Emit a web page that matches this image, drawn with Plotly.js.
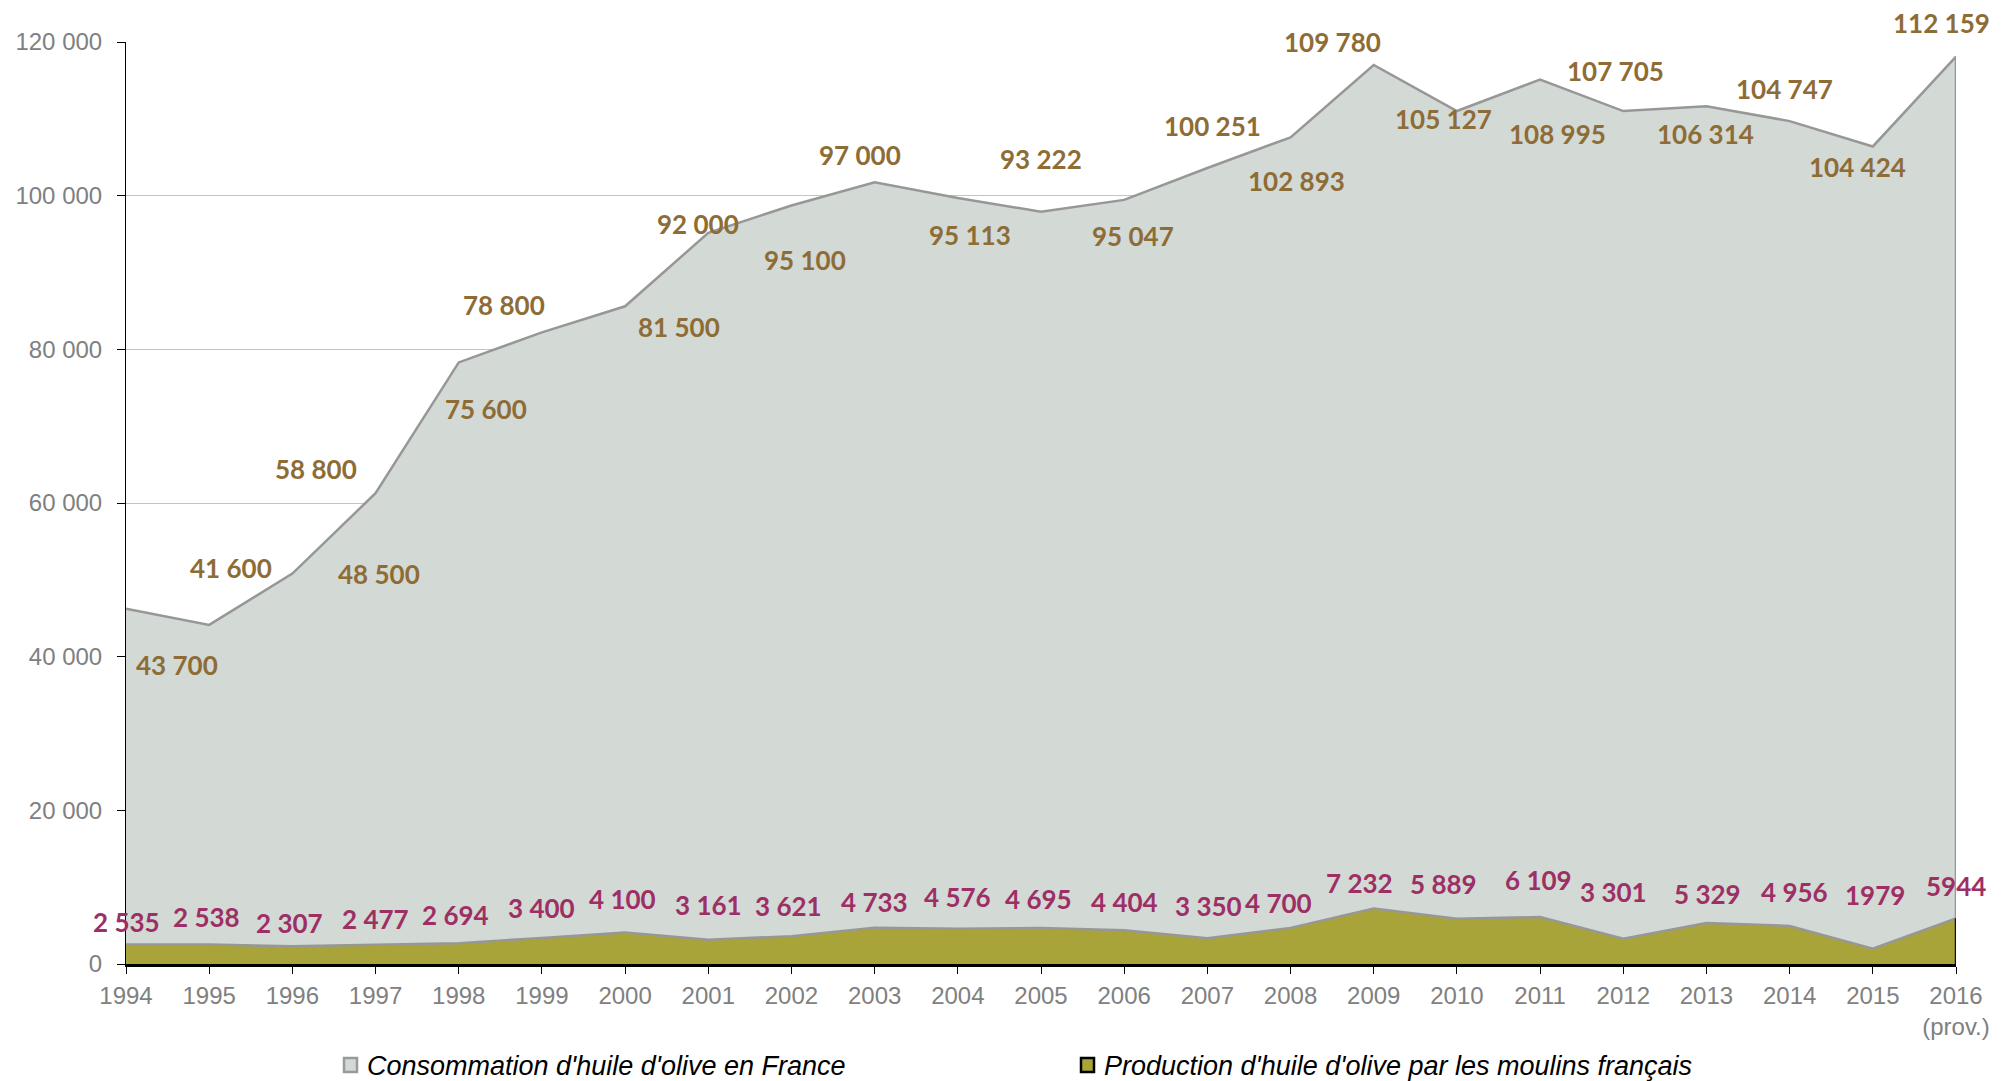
<!DOCTYPE html>
<html>
<head>
<meta charset="utf-8">
<script src="https://cdn.plot.ly/plotly-3.0.1.min.js"></script>
<style>
  html, body { margin: 0; padding: 0; background: #ffffff; }
  #chart { width: 2016px; height: 1081px; }
</style>
</head>
<body>
<div id="chart"></div>
<script>
// ---------------- DATA ----------------
const years = [1994,1995,1996,1997,1998,1999,2000,2001,2002,2003,2004,2005,2006,2007,2008,2009,2010,2011,2012,2013,2014,2015,2016];
const yearLabels = ['1994','1995','1996','1997','1998','1999','2000','2001','2002','2003','2004','2005','2006','2007','2008','2009','2010','2011','2012','2013','2014','2015','2016<br>(prov.)'];
// Consommation (stacked on top of production)
const consumption = [43700,41600,48500,58800,75600,78800,81500,92000,95100,97000,95113,93222,95047,100251,102893,109780,105127,108995,107705,106314,104747,104424,112159];
// Production des moulins français
const production = [2535,2538,2307,2477,2694,3400,4100,3161,3621,4733,4576,4695,4404,3350,4700,7232,5889,6109,3301,5329,4956,1979,5944];
const productionLabels = ['2 535','2 538','2 307','2 477','2 694','3 400','4 100','3 161','3 621','4 733','4 576','4 695','4 404','3 350','4 700','7 232','5 889','6 109','3 301','5 329','4 956','1979','5944'];
const seriesNames = ["Consommation d'huile d'olive en France", "Production d'huile d'olive par les moulins français"];

// ---------------- LAYOUT / STYLE ----------------
const W = 2016, H = 1081;
const M = {l: 126, r: 60, t: 42, b: 117};
const colConsFill = '#d3d9d5', colProdFill = '#a9a43a', colLine = '#979797';
const colBrown = '#8d6c35', colMagenta = '#9d2f65', colTick = '#808080';

// label offsets in px from the data point [dx, dy(up)]
const consOffsets = [[51,-56],[22,57],[87,0],[-60,24],[27,-47],[-38,27],[54,-21],[-10,9],[14,-55],[-15,27],[12,-37],[0,53],[9,-36],[5,42],[6,-44],[-41,23],[-13,-8],[17,-54],[-8,40],[-1,-28],[-5,32],[-15,-21],[-15,34]];
const prodOffsets = [[0,23],[-3,28],[-3,23],[0,26],[-3,28],[0,30],[-3,34],[0,35],[-3,30],[0,26],[0,32],[-3,29],[0,28],[1,32],[-12,25],[-14,25],[-13,35],[-2,37],[-10,47],[1,29],[5,34],[2,54],[0,32]];

function fmtSpace(v){ return String(v).replace(/\B(?=(\d{3})+(?!\d))/g, ' '); }

const totals = consumption.map((c,i) => c + production[i]);

const traces = [
  {
    x: years, y: production, name: seriesNames[1], type: 'scatter', mode: 'lines',
    stackgroup: 'one', fillcolor: colProdFill,
    line: {color: colLine, width: 2.5}, showlegend: false, hoverinfo: 'skip'
  },
  {
    x: years, y: consumption, name: seriesNames[0], type: 'scatter', mode: 'lines',
    stackgroup: 'one', fillcolor: colConsFill,
    line: {color: colLine, width: 2.5}, showlegend: false, hoverinfo: 'skip'
  }
];

const labelFont = (c) => ({family: 'Lato, "Open Sans", sans-serif', size: 26, weight: 700, color: c});
const annotations = [];
years.forEach((yr, i) => {
  annotations.push({
    x: yr, y: totals[i], xref: 'x', yref: 'y', showarrow: false,
    text: fmtSpace(consumption[i]), font: labelFont(colBrown),
    xshift: consOffsets[i][0], yshift: consOffsets[i][1]
  });
  annotations.push({
    x: yr, y: production[i], xref: 'x', yref: 'y', showarrow: false,
    text: productionLabels[i], font: labelFont(colMagenta),
    xshift: prodOffsets[i][0], yshift: prodOffsets[i][1]
  });
});

// custom legend (pixel -> paper helpers)
const pw = W - M.l - M.r, ph = H - M.t - M.b;
const px = (x) => (x - M.l) / pw;
const py = (y) => (H - M.b - y) / ph;
const legendFont = {family: '"Liberation Sans", Arial, sans-serif', size: 27, color: '#000000'};
annotations.push({xref:'paper', yref:'paper', x: px(365), y: py(1066), xanchor:'left', yanchor:'middle', showarrow:false, text:'<i>' + seriesNames[0] + '</i>', font: legendFont});
annotations.push({xref:'paper', yref:'paper', x: px(1102), y: py(1066), xanchor:'left', yanchor:'middle', showarrow:false, text:'<i>' + seriesNames[1] + '</i>', font: legendFont});

const last = years.length - 1;
const shapes = [
  // right edge of stacked areas
  {type:'line', xref:'x', yref:'y', x0: years[last], x1: years[last], y0: production[last], y1: totals[last], line:{color: colLine, width: 2.5}},
  {type:'line', xref:'x', yref:'y', x0: years[last], x1: years[last], y0: 0, y1: production[last], line:{color: '#111111', width: 2.5}},
  // legend boxes
  {type:'rect', xref:'paper', yref:'paper', x0: px(344), x1: px(357), y0: py(1072), y1: py(1058), fillcolor: colConsFill, line:{color: '#9a9a9a', width: 2.5}},
  {type:'rect', xref:'paper', yref:'paper', x0: px(1081), x1: px(1094), y0: py(1072), y1: py(1058), fillcolor: colProdFill, line:{color: '#000000', width: 2.5}}
];

const tickFont = {family: '"Liberation Sans", Arial, sans-serif', size: 24, color: colTick};

const layout = {
  width: W, height: H,
  margin: M,
  paper_bgcolor: '#ffffff', plot_bgcolor: '#ffffff',
  separators: ', ',
  showlegend: false,
  xaxis: {
    range: [years[0], years[last]],
    tickvals: years, ticktext: yearLabels,
    ticks: 'outside', ticklen: 7, tickwidth: 1, tickcolor: '#000000',
    showline: true, linecolor: '#000000', linewidth: 3,
    showgrid: false, zeroline: false,
    tickfont: tickFont, ticklabelstandoff: 1
  },
  yaxis: {
    range: [0, 120000], dtick: 20000, tickformat: ',d',
    ticks: 'outside', ticklen: 8, tickwidth: 1, tickcolor: '#000000',
    showline: true, linecolor: '#000000', linewidth: 1,
    showgrid: true, gridcolor: '#c4c4c4', gridwidth: 1,
    zeroline: false, tickfont: tickFont, ticklabelstandoff: 10
  },
  annotations: annotations,
  shapes: shapes
};

Plotly.newPlot('chart', traces, layout, {staticPlot: true, displayModeBar: false});
</script>
</body>
</html>
